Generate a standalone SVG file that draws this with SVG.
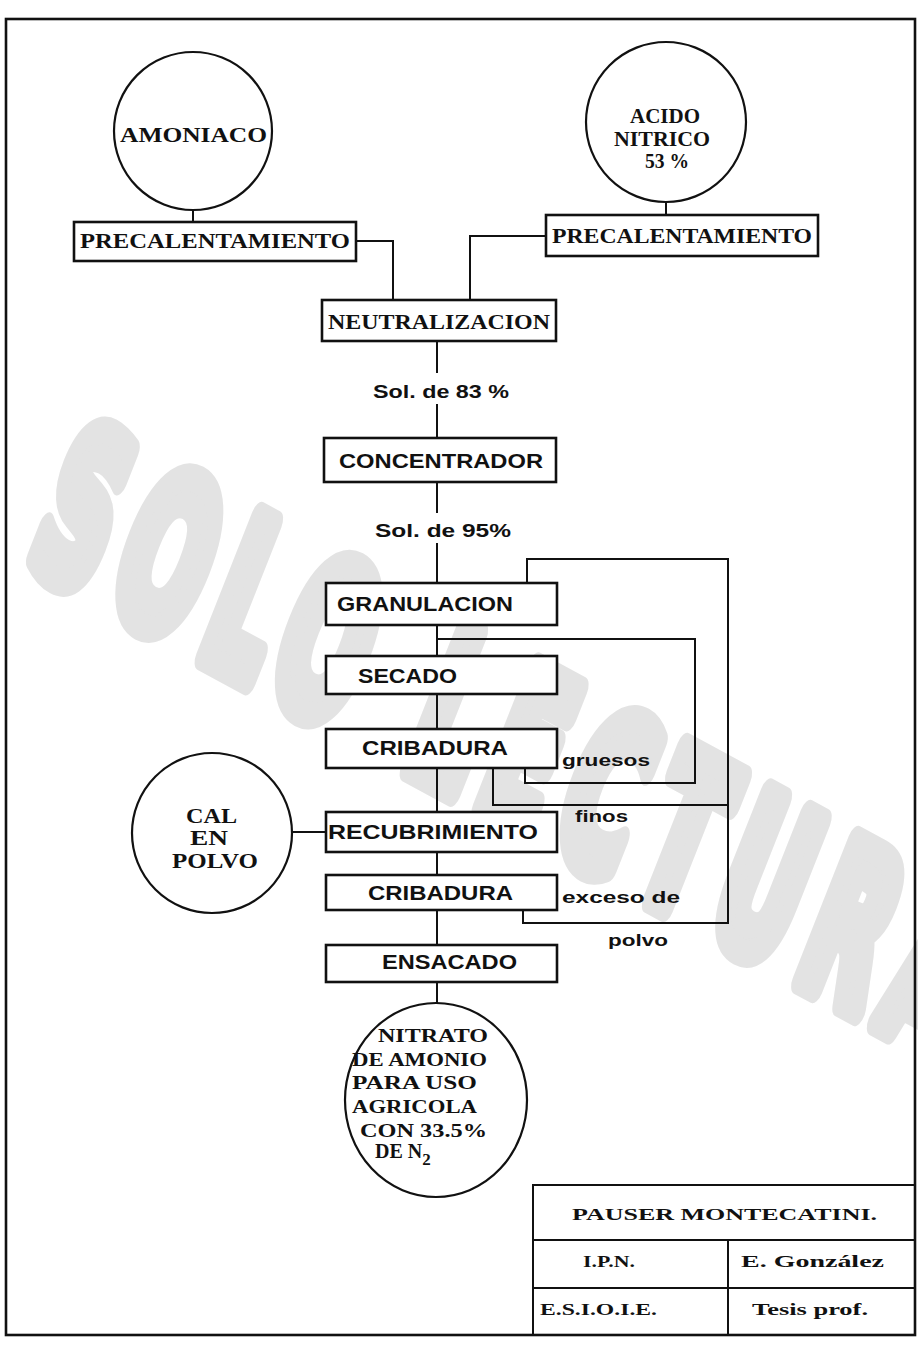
<svg xmlns="http://www.w3.org/2000/svg" width="918" height="1348" viewBox="0 0 918 1348">
<style>
.box{fill:#fff;stroke:#111;stroke-width:2.6}
.circ{fill:#fff;stroke:#111;stroke-width:2.2}
.ln{fill:none;stroke:#111;stroke-width:2}
.serif{font-family:"Liberation Serif","DejaVu Serif",serif;font-weight:bold;fill:#111}
.sans{font-family:"Liberation Sans","DejaVu Sans",sans-serif;font-weight:bold;fill:#111}
.wm{font-family:"DejaVu Sans","Liberation Sans",sans-serif;font-weight:bold;fill:#e3e3e3;stroke:#e3e3e3;stroke-width:24;stroke-linejoin:round}
</style>
<rect width="918" height="1348" fill="#fff"/>
<text class="wm" font-size="180" textLength="1840" lengthAdjust="spacing" transform="translate(24,560) skewY(28.5) skewX(-18) scale(0.5,1.31)">SOLO LECTURA</text>
<rect x="6" y="19" width="909" height="1316" fill="none" stroke="#111" stroke-width="2.6"/>

<g id="connectors">
<path class="ln" d="M193,210 V222"/>
<path class="ln" d="M666,201 V215"/>
<path class="ln" d="M356,241 H393 V300"/>
<path class="ln" d="M546,236 H470 V300"/>
<path class="ln" d="M437,341 V373 M437,404 V438 M437,482 V513 M437,543 V583 M437,625 V656 M437,694 V729 M437,768 V812 M437,852 V875 M437,910 V945 M437,982 V1003"/>
<path class="ln" d="M527,583 V559 H728 V923 H523 V910"/>
<path class="ln" d="M437,639 H695 V783 H525 V768"/>
<path class="ln" d="M493,768 V805 H728"/>
<path class="ln" d="M292,832 H325"/>
</g>

<g id="amoniaco">
<circle class="circ" cx="193" cy="131" r="79"/>
<text class="serif" x="120" y="142" font-size="20" textLength="147" lengthAdjust="spacingAndGlyphs">AMONIACO</text>
</g>
<g id="acido-nitrico">
<circle class="circ" cx="666" cy="122" r="80"/>
<text class="serif" x="630" y="123" font-size="20" textLength="70" lengthAdjust="spacingAndGlyphs">ACIDO</text>
<text class="serif" x="614" y="146" font-size="20" textLength="96" lengthAdjust="spacingAndGlyphs">NITRICO</text>
<text class="serif" x="645" y="168" font-size="20" textLength="44" lengthAdjust="spacingAndGlyphs">53 %</text>
</g>
<g id="precal-1">
<rect class="box" x="74" y="222" width="282" height="39"/>
<text class="serif" x="80" y="248" font-size="22" textLength="270" lengthAdjust="spacingAndGlyphs">PRECALENTAMIENTO</text>
</g>
<g id="precal-2">
<rect class="box" x="546" y="215" width="272" height="41"/>
<text class="serif" x="552" y="243" font-size="22" textLength="260" lengthAdjust="spacingAndGlyphs">PRECALENTAMIENTO</text>
</g>
<g id="neutralizacion">
<rect class="box" x="322" y="300" width="234" height="41"/>
<text class="serif" x="328" y="329" font-size="21" textLength="222" lengthAdjust="spacingAndGlyphs">NEUTRALIZACION</text>
</g>
<g id="sol83">
<text class="sans" x="373" y="398" font-size="18" textLength="136" lengthAdjust="spacingAndGlyphs">Sol. de 83 %</text>
</g>
<g id="concentrador">
<rect class="box" x="324" y="438" width="232" height="44"/>
<text class="sans" x="339" y="468" font-size="20" textLength="204" lengthAdjust="spacingAndGlyphs">CONCENTRADOR</text>
</g>
<g id="sol95">
<text class="sans" x="375" y="537" font-size="18" textLength="136" lengthAdjust="spacingAndGlyphs">Sol. de 95%</text>
</g>
<g id="granulacion">
<rect class="box" x="326" y="583" width="231" height="42"/>
<text class="sans" x="337" y="611" font-size="20" textLength="176" lengthAdjust="spacingAndGlyphs">GRANULACION</text>
</g>
<g id="secado">
<rect class="box" x="326" y="656" width="231" height="38"/>
<text class="sans" x="358" y="683" font-size="20" textLength="99" lengthAdjust="spacingAndGlyphs">SECADO</text>
</g>
<g id="cribadura-1">
<rect class="box" x="326" y="729" width="231" height="39"/>
<text class="sans" x="362" y="755" font-size="20" textLength="146" lengthAdjust="spacingAndGlyphs">CRIBADURA</text>
</g>
<g id="gruesos">
<text class="sans" x="562" y="766" font-size="17" textLength="88" lengthAdjust="spacingAndGlyphs">gruesos</text>
</g>
<g id="finos">
<text class="sans" x="575" y="822" font-size="17" textLength="53" lengthAdjust="spacingAndGlyphs">finos</text>
</g>
<g id="cal-en-polvo">
<circle class="circ" cx="212" cy="833" r="80"/>
<text class="serif" x="186" y="823" font-size="20" textLength="51" lengthAdjust="spacingAndGlyphs">CAL</text>
<text class="serif" x="190" y="845" font-size="20" textLength="38" lengthAdjust="spacingAndGlyphs">EN</text>
<text class="serif" x="172" y="868" font-size="20" textLength="86" lengthAdjust="spacingAndGlyphs">POLVO</text>
</g>
<g id="recubrimiento">
<rect class="box" x="326" y="812" width="231" height="40"/>
<text class="sans" x="328" y="839" font-size="20" textLength="210" lengthAdjust="spacingAndGlyphs">RECUBRIMIENTO</text>
</g>
<g id="cribadura-2">
<rect class="box" x="326" y="875" width="231" height="35"/>
<text class="sans" x="368" y="900" font-size="20" textLength="145" lengthAdjust="spacingAndGlyphs">CRIBADURA</text>
</g>
<g id="exceso">
<text class="sans" x="562" y="903" font-size="17" textLength="118" lengthAdjust="spacingAndGlyphs">exceso de</text>
<text class="sans" x="608" y="946" font-size="17" textLength="60" lengthAdjust="spacingAndGlyphs">polvo</text>
</g>
<g id="ensacado">
<rect class="box" x="326" y="945" width="231" height="37"/>
<text class="sans" x="382" y="969" font-size="20" textLength="135" lengthAdjust="spacingAndGlyphs">ENSACADO</text>
</g>
<g id="nitrato">
<ellipse class="circ" cx="436" cy="1100" rx="91" ry="97"/>
<text class="serif" x="378" y="1042" font-size="19" textLength="110" lengthAdjust="spacingAndGlyphs">NITRATO</text>
<text class="serif" x="352" y="1066" font-size="19" textLength="135" lengthAdjust="spacingAndGlyphs">DE AMONIO</text>
<text class="serif" x="352" y="1089" font-size="19" textLength="125" lengthAdjust="spacingAndGlyphs">PARA USO</text>
<text class="serif" x="352" y="1113" font-size="19" textLength="125" lengthAdjust="spacingAndGlyphs">AGRICOLA</text>
<text class="serif" x="360" y="1137" font-size="19" textLength="127" lengthAdjust="spacingAndGlyphs">CON 33.5%</text>
<text class="serif" x="375" y="1158" font-size="20">DE N<tspan font-size="17" dy="7">2</tspan></text>
</g>
<g id="title-block">
<path class="ln" d="M533,1335 V1185 H915 M533,1240 H915 M533,1288 H915 M728,1240 V1335"/>
<text class="serif" x="572" y="1220" font-size="17" textLength="305" lengthAdjust="spacingAndGlyphs">PAUSER MONTECATINI.</text>
<text class="serif" x="583" y="1267" font-size="17" textLength="52" lengthAdjust="spacingAndGlyphs">I.P.N.</text>
<text class="serif" x="741" y="1267" font-size="17" textLength="143" lengthAdjust="spacingAndGlyphs">E. González</text>
<text class="serif" x="540" y="1315" font-size="17" textLength="117" lengthAdjust="spacingAndGlyphs">E.S.I.O.I.E.</text>
<text class="serif" x="752" y="1315" font-size="17" textLength="116" lengthAdjust="spacingAndGlyphs">Tesis prof.</text>
</g>
</svg>
